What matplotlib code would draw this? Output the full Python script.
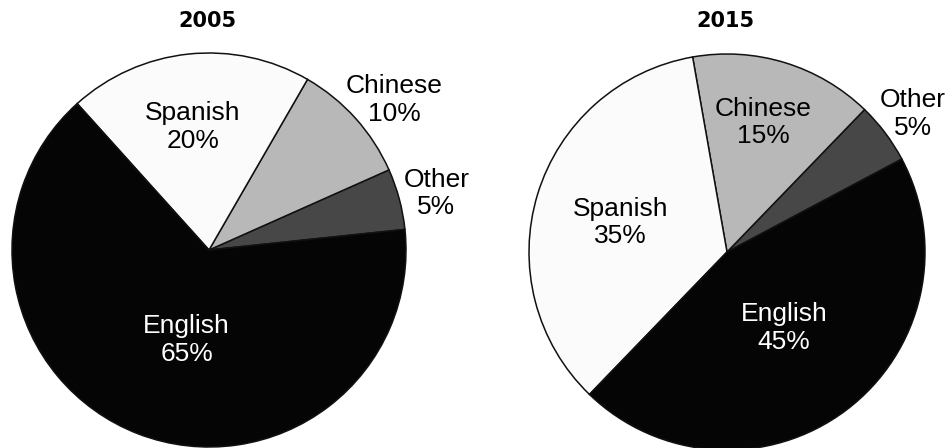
import matplotlib.pyplot as plt
import numpy as np

plt.rcParams['font.family'] = ['Liberation Sans', 'DejaVu Sans']

# data
languages = ['Other', 'Chinese', 'Spanish', 'English']
share_2005 = [5, 10, 20, 65]
share_2015 = [5, 15, 35, 45]
colors = ['#474747', '#b8b8b8', '#fbfbfb', '#050505']
text_colors = ['black', 'black', 'black', 'white']

# layout (pixel coordinates, y up)
W, H = 953, 448
panels = [
    dict(title='2005', values=share_2005, center=(209, 198), radius=197, start=6,
         dist=[1.19, 1.21, 0.63, 0.47], nudge=[-1, -3, 1.5, 7]),
    dict(title='2015', values=share_2015, center=(727, 196), radius=198, start=28,
         dist=[1.17, 0.68, 0.56, 0.48], nudge=[-0.5, 1.4, 1.6, 0]),
]

fig = plt.figure(figsize=(W / 100, H / 100), dpi=100)
ax = fig.add_axes([0, 0, 1, 1])

for p in panels:
    wedges, _ = ax.pie(p['values'], colors=colors, startangle=p['start'],
                       center=p['center'], radius=p['radius'], counterclock=True,
                       wedgeprops=dict(edgecolor='#111111', linewidth=1.1))
    cx, cy = p['center']
    for w, lang, v, d, n, tc in zip(wedges, languages, p['values'],
                                    p['dist'], p['nudge'], text_colors):
        ang = np.deg2rad((w.theta1 + w.theta2) / 2 + n)
        ax.text(cx + d * p['radius'] * np.cos(ang), cy + d * p['radius'] * np.sin(ang),
                f'{lang}\n{v}%', ha='center', va='center', color=tc,
                fontsize=19, linespacing=1.18, zorder=5)
    ax.text(cx - 2, H - 20.5, p['title'], ha='center', va='center',
            fontsize=15, fontweight='bold', family='DejaVu Sans', zorder=5)

ax.set_xlim(0, W)
ax.set_ylim(0, H)
ax.set_aspect('equal')
ax.axis('off')

fig.savefig('out.png', dpi=100)
